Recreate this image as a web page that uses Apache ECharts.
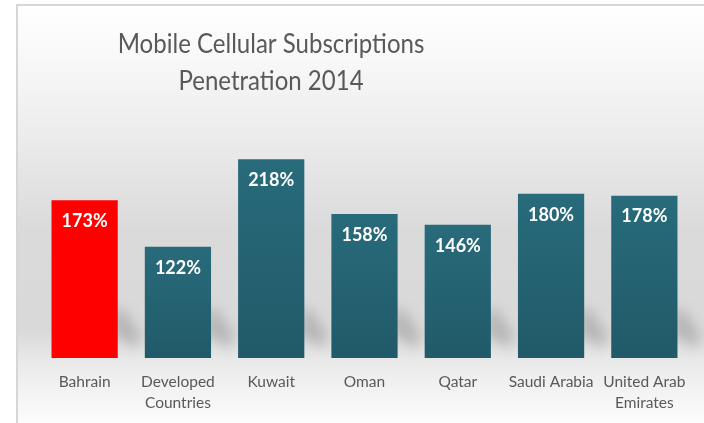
<!DOCTYPE html>
<html>
<head>
<meta charset="utf-8">
<style>
  html, body { margin: 0; padding: 0; background: #ffffff; }
  #chart { width: 704px; height: 423px; }
</style>
<script src="https://cdn.jsdelivr.net/npm/echarts@6/dist/echarts.min.js"></script>
</head>
<body>
<div id="chart"></div>
<script>
// Mobile cellular subscriptions per 100 people, 2014
const categories = ['Bahrain', 'Developed\nCountries', 'Kuwait', 'Oman', 'Qatar', 'Saudi Arabia', 'United Arab\nEmirates'];
const penetration = [173, 122, 218, 158, 146, 180, 178];
const highlighted = 'Bahrain';

const chart = echarts.init(document.getElementById('chart'), null, { renderer: 'canvas' });

const tealFill = new echarts.graphic.LinearGradient(0, 0, 0, 1, [
  { offset: 0, color: '#286b7b' },
  { offset: 1, color: '#215a68' }
]);

// panel wash, stops given in pixel rows of a 430px tall panel starting at y=5
const panelTop = 5, panelH = 430;
const wash = [[5, '#ffffff'], [60, '#f8f8f8'], [140, '#ebebeb'], [230, '#dadada'],
              [330, '#d9d9d9'], [365, '#ebebeb'], [423, '#fdfdfd']]
  .map(([y, c]) => ({ offset: (y - panelTop) / panelH, color: c }));

// soft slanted floor shadow to the right of each bar's base
function renderShadow(params, api) {
  const base = api.coord([api.value(0), 0]);
  const top = api.coord([api.value(0), api.value(1)]);
  const w = api.size([1, 0])[0] * 0.71;
  const xr = base[0] + w / 2;
  const yb = base[1];
  const h = Math.min(50, yb - top[1]);
  const off = 2000;
  return {
    type: 'polygon',
    z2: -1,
    shape: {
      points: [
        [xr - 4 + off, yb - h], [xr + 6 + off, yb - h + 2],
        [xr + 24 + off, yb - 20], [xr + 18 + off, yb - 10], [xr - 4 + off, yb - 22]
      ]
    },
    style: {
      fill: '#000',
      shadowColor: 'rgba(120,120,120,0.38)',
      shadowBlur: 13,
      shadowOffsetX: -off
    }
  };
}

chart.setOption({
  animation: false,
  backgroundColor: '#ffffff',
  graphic: [
    {
      type: 'rect', z: -10, silent: true,
      shape: { x: 17, y: panelTop, width: 700, height: panelH },
      style: {
        fill: new echarts.graphic.LinearGradient(0, 0, 0, 1, wash),
        stroke: '#d6d6d6', lineWidth: 2
      }
    },
    {
      type: 'text', x: 271, y: 26, scaleX: 0.89, silent: true,
      style: {
        text: 'Mobile Cellular Subscriptions\nPenetration 2014',
        fill: '#595959',
        font: '27px Lato',
        lineHeight: 37,
        align: 'center',
        verticalAlign: 'top'
      }
    }
  ],
  grid: { left: 38, right: 13, top: 130, bottom: 65 },
  xAxis: {
    type: 'category',
    data: categories,
    axisLine: { show: false },
    axisTick: { show: false },
    axisLabel: {
      color: '#595959',
      fontFamily: 'Lato',
      fontSize: 15.5,
      lineHeight: 21,
      margin: 13,
      interval: 0
    }
  },
  yAxis: {
    type: 'value', min: 0, max: 250,
    show: false, splitLine: { show: false }
  },
  series: [
    {
      type: 'custom',
      silent: true,
      clip: false,
      z: 1,
      renderItem: renderShadow,
      data: penetration.map((v, i) => [i, v])
    },
    {
      type: 'bar',
      z: 2,
      barCategoryGap: '29%',
      data: penetration.map((v, i) => ({
        value: v,
        itemStyle: { color: categories[i] === highlighted ? '#ff0000' : tealFill }
      })),
      label: {
        show: true,
        position: 'insideTop',
        distance: 12,
        formatter: p => p.value + '%',
        color: '#ffffff',
        fontFamily: 'Lato',
        fontWeight: 'bold',
        fontSize: 18
      }
    }
  ]
});
</script>
</body>
</html>
